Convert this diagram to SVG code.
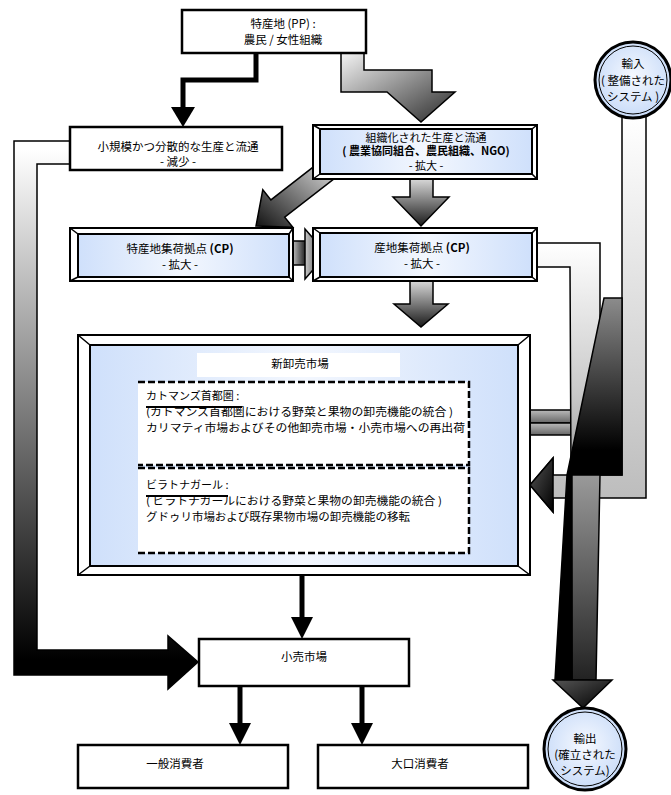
<svg xmlns="http://www.w3.org/2000/svg" width="671" height="795" viewBox="0 0 671 795">
<style>
.t{font-family:"Noto Sans CJK JP","Noto Sans",sans-serif;font-size:11.5px;fill:#000}
.s{font-size:11px}
.c{text-anchor:middle}
.b{font-weight:bold}
.box{fill:#fff;stroke:#000;stroke-width:2.5}
.fo{fill:#fff;stroke:#000;stroke-width:2}
.fi{fill:url(#blue);stroke:#000;stroke-width:2}
.bev{stroke:#000;stroke-width:1.5;fill:none}
.ln{stroke:#000;stroke-width:5;fill:none}
.hd{fill:#000}
.blk{stroke:#000;stroke-width:1.5}
.dash{fill:none;stroke:#000;stroke-width:2.5;stroke-dasharray:7 3}
.strike{stroke:#000;stroke-width:2}
</style>
<defs>
<linearGradient id="blue" x1="0" y1="0" x2="1" y2="0">
<stop offset="0" stop-color="#cfe0fb"/><stop offset="0.5" stop-color="#f3f7fe"/><stop offset="1" stop-color="#cfe0fb"/>
</linearGradient>
<radialGradient id="circ" cx="0.5" cy="0.45" r="0.55">
<stop offset="0" stop-color="#f6f9ff"/><stop offset="1" stop-color="#c8dbf8"/>
</radialGradient>
<linearGradient id="leftG" gradientUnits="userSpaceOnUse" x1="0" y1="150" x2="0" y2="660">
<stop offset="0" stop-color="#ffffff"/><stop offset="1" stop-color="#000000"/>
</linearGradient>
<linearGradient id="diagG" x1="0" y1="0" x2="1" y2="1">
<stop offset="0" stop-color="#f4f4f4"/><stop offset="1" stop-color="#2a2a2a"/>
</linearGradient>
<linearGradient id="diag2G" x1="1" y1="0" x2="0" y2="1">
<stop offset="0" stop-color="#e8e8e8"/><stop offset="1" stop-color="#111"/>
</linearGradient>
<linearGradient id="downG" x1="0" y1="0" x2="0" y2="1">
<stop offset="0" stop-color="#d8d8d8"/><stop offset="1" stop-color="#1a1a1a"/>
</linearGradient>
<linearGradient id="rightG" x1="0" y1="0" x2="1" y2="0">
<stop offset="0" stop-color="#c8c8c8"/><stop offset="1" stop-color="#1a1a1a"/>
</linearGradient>
<linearGradient id="cpG" gradientUnits="userSpaceOnUse" x1="0" y1="243" x2="0" y2="680">
<stop offset="0" stop-color="#ffffff"/><stop offset="0.35" stop-color="#c8c8c8"/><stop offset="1" stop-color="#222"/>
</linearGradient>
<linearGradient id="impG" gradientUnits="userSpaceOnUse" x1="0" y1="118" x2="0" y2="498">
<stop offset="0" stop-color="#ffffff"/><stop offset="1" stop-color="#bdbdbd"/>
</linearGradient>
<linearGradient id="wedgeG" gradientUnits="userSpaceOnUse" x1="0" y1="300" x2="0" y2="450">
<stop offset="0" stop-color="#8a8a8a"/><stop offset="1" stop-color="#000"/>
</linearGradient>
<linearGradient id="barG" x1="0" y1="0" x2="0" y2="1">
<stop offset="0" stop-color="#bbbbbb"/><stop offset="1" stop-color="#666"/>
</linearGradient>
<linearGradient id="headG" x1="0" y1="0" x2="1" y2="1">
<stop offset="0" stop-color="#555"/><stop offset="1" stop-color="#000"/>
</linearGradient>
</defs>

<g id="connectors">
  <path class="ln" d="M256,53 V80 H183 V110"/>
  <polygon class="hd" points="171,107 195,107 183,127"/>
  <path class="blk" fill="url(#diagG)" d="M341,53 H364 V70 H432 V92 H455 L421,122 L387,92 H341 Z"/>
  <path class="blk" fill="url(#downG)" d="M410,179 H433 V197 H449 L421,226 L393,197 H410 Z"/>
  <polygon class="blk" fill="url(#diag2G)" points="323.1,159.4 336.9,176.6 284.7,217.1 292.8,227.2 256,226 262.8,189.8 270.9,199.9"/>
  <rect class="blk" fill="url(#rightG)" x="292" y="241" width="14" height="24"/>
  <polygon class="blk" fill="url(#rightG)" points="305,229 327,254 305,279"/>
  <path class="blk" fill="url(#downG)" d="M410,281 H433 V304 H448 L421,327 L394,304 H410 Z"/>
  <path class="blk" fill="url(#leftG)" d="M70,141 H14 V675 H168 V689 L198,662 L168,636 V650 H37 V164 H70 Z"/>
  <path class="blk" fill="url(#impG)" d="M622,116 H646 V498 H553 V512 L530,485 L553,458 V475 H622 Z"/>
  <polygon class="blk" fill="url(#headG)" points="553,458 530,485 553,512"/>
  <rect class="blk" fill="url(#barG)" x="528" y="410" width="50" height="13"/>
  <rect class="blk" fill="url(#barG)" x="528" y="423" width="50" height="12"/>
  <polygon class="blk" fill="url(#cpG)" points="537,243 600,243 600,475 596,680 572,680 570,267 537,267"/>
  <polygon class="blk" fill="url(#wedgeG)" points="604,298 622,298 622,475 572,475 572,680 555,680 567,475"/>
  <polygon class="blk" fill="url(#headG)" points="553,680 612,680 583,708"/>
  <path class="ln" d="M302,575 V619"/>
  <polygon class="hd" points="291,617 313,617 302,639"/>
  <path class="ln" d="M240,686 V725"/>
  <polygon class="hd" points="229,723 251,723 240,745"/>
  <path class="ln" d="M362,686 V725"/>
  <polygon class="hd" points="351,723 373,723 362,745"/>
</g>

<g id="pp">
  <rect class="box" x="182" y="10" width="184" height="43"/>
  <text class="t c" x="283" y="28">特産地 (PP) :</text>
  <text class="t c" x="283" y="44">農民 / 女性組織</text>
</g>

<g id="small-scale">
  <rect class="box" x="70" y="127" width="212" height="43"/>
  <text class="t c" x="178" y="151">小規模かつ分散的な生産と流通</text>
  <text class="t c" x="178" y="166">- 減少 -</text>
</g>

<g id="organized">
  <rect class="fo" x="313" y="125" width="224" height="54"/>
  <rect class="fi" x="320" y="129" width="212" height="45"/>
  <path class="bev" d="M313,125 L320,129 M537,125 L532,129 M313,179 L320,174 M537,179 L532,174"/>
  <text class="t s c" x="426" y="142">組織化された生産と流通</text>
  <text class="t s c b" x="426" y="155">( 農業協同組合、農民組織、NGO)</text>
  <text class="t s c" x="426" y="170">- 拡大 -</text>
</g>

<g id="cp-left">
  <rect class="fo" x="70" y="228" width="223" height="53"/>
  <rect class="fi" x="78" y="234" width="211" height="43"/>
  <path class="bev" d="M70,228 L78,234 M293,228 L289,234 M70,281 L78,277 M293,281 L289,277"/>
  <text class="t c" x="180" y="253">特産地集荷拠点 <tspan class="b">(CP)</tspan></text>
  <text class="t c" x="180" y="269">- 拡大 -</text>
</g>

<g id="cp-right">
  <rect class="fo" x="313" y="228" width="224" height="53"/>
  <rect class="fi" x="320" y="233" width="212" height="44"/>
  <path class="bev" d="M313,228 L320,233 M537,228 L532,233 M313,281 L320,277 M537,281 L532,277"/>
  <text class="t c" x="422" y="252">産地集荷拠点 <tspan class="b">(CP)</tspan></text>
  <text class="t c" x="422" y="268">- 拡大 -</text>
</g>

<g id="new-market">
  <rect class="fo" x="78" y="335" width="452" height="240"/>
  <rect class="fi" x="90" y="345" width="428" height="221"/>
  <path class="bev" d="M78,335 L90,345 M530,335 L518,345 M78,575 L90,566 M530,575 L518,566"/>
  <rect x="197" y="353" width="203" height="24" fill="#fff"/>
  <text class="t c" x="300" y="368">新卸売市場</text>
  <rect x="138" y="382" width="331" height="83" fill="#fff"/>
  <path class="dash" d="M138,382 H469 V465 H138"/>
  <text class="t s" x="146" y="400">カトマンズ首都圏 :</text>
  <text class="t s" x="146" y="416" textLength="307" lengthAdjust="spacingAndGlyphs">(カトマンズ首都圏における野菜と果物の卸売機能の統合 )</text>
  <line class="strike" x1="146" y1="407" x2="242" y2="407"/>
  <text class="t s" x="146" y="432" textLength="319" lengthAdjust="spacingAndGlyphs">カリマティ市場およびその他卸売市場・小売市場への再出荷</text>
  <rect x="138" y="468" width="331" height="85" fill="#fff"/>
  <path class="dash" d="M138,468 H469 V553 H138"/>
  <text class="t s" x="146" y="489">ビラトナガール :</text>
  <text class="t s" x="146" y="505" textLength="296" lengthAdjust="spacingAndGlyphs">( ビラトナガールにおける野菜と果物の卸売機能の統合 )</text>
  <line class="strike" x1="146" y1="496" x2="228" y2="496"/>
  <text class="t s" x="146" y="521" textLength="264" lengthAdjust="spacingAndGlyphs">グドゥリ市場および既存果物市場の卸売機能の移転</text>
</g>

<g id="retail">
  <rect class="box" x="199" y="639" width="210" height="47"/>
  <text class="t c" x="304" y="661">小売市場</text>
</g>

<g id="general-consumers">
  <rect class="box" x="78" y="745" width="210" height="43"/>
  <text class="t c" x="175" y="768">一般消費者</text>
</g>

<g id="bulk-consumers">
  <rect class="box" x="318" y="745" width="210" height="43"/>
  <text class="t c" x="420" y="768">大口消費者</text>
</g>

<g id="import">
  <circle cx="633" cy="80" r="38" fill="url(#circ)" stroke="#000" stroke-width="3"/>
  <circle cx="633" cy="80" r="34" fill="none" stroke="#000" stroke-width="1"/>
  <text class="t c" x="633" y="68">輸入</text>
  <text class="t c" x="633" y="85">( 整備された</text>
  <text class="t c" x="633" y="101">システム )</text>
</g>

<g id="export">
  <circle cx="585" cy="749" r="41" fill="url(#circ)" stroke="#000" stroke-width="3"/>
  <circle cx="585" cy="749" r="37" fill="none" stroke="#000" stroke-width="1"/>
  <text class="t c" x="585" y="743">輸出</text>
  <text class="t c" x="585" y="759">(確立された</text>
  <text class="t c" x="585" y="775">システム)</text>
</g>
</svg>
